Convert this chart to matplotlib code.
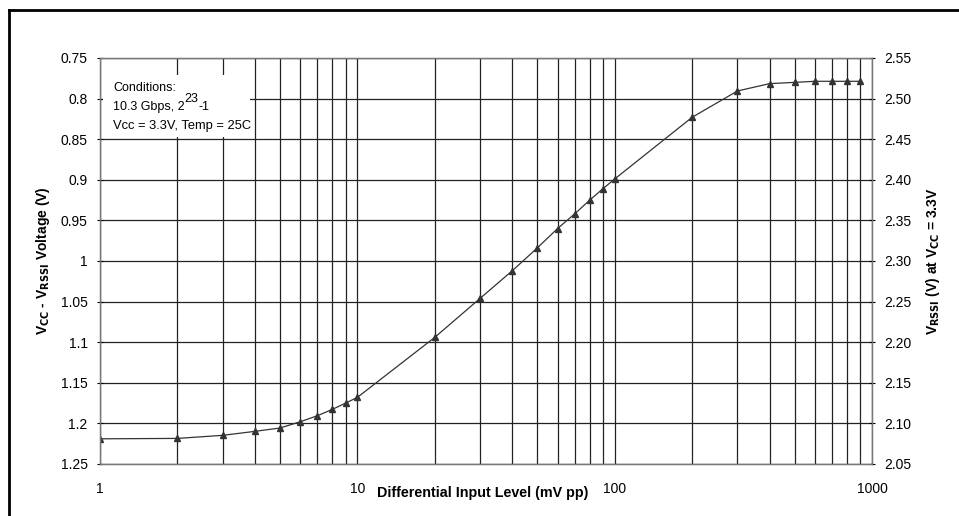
import matplotlib.pyplot as plt
from matplotlib.patches import Rectangle
from matplotlib.ticker import FixedLocator, FuncFormatter, NullFormatter

plt.rcParams['font.family'] = ['Liberation Sans', 'DejaVu Sans']

# Differential input level (mV pp) and VCC - VRSSI (V)
input_mv = [1, 2, 3, 4, 5, 6, 7, 8, 9, 10,
            20, 30, 40, 50, 60, 70, 80, 90, 100,
            200, 300, 400, 500, 600, 700, 800, 900]
vcc_minus_rssi = [1.219, 1.2185, 1.2147, 1.2098, 1.2057, 1.198, 1.1905, 1.1827, 1.175, 1.168,
                  1.094, 1.046, 1.012, 0.984, 0.960, 0.9418, 0.925, 0.911, 0.899,
                  0.823, 0.7906, 0.7816, 0.780, 0.7787, 0.7787, 0.7787, 0.7787]

left_ticks = [0.75, 0.8, 0.85, 0.9, 0.95, 1.0, 1.05, 1.1, 1.15, 1.2, 1.25]
right_ticks = [2.05, 2.10, 2.15, 2.20, 2.25, 2.30, 2.35, 2.40, 2.45, 2.50, 2.55]

fig = plt.figure(figsize=(9.59, 5.16), dpi=100)
ax = fig.add_axes([0.1043, 0.1008, 0.805, 0.7868])

ax.plot(input_mv, vcc_minus_rssi, color='#333333', lw=0.9,
        marker='^', markersize=4.5, markerfacecolor='#333333', markeredgecolor='#333333')

ax.set_xscale('log')
ax.set_xlim(1, 1000)
ax.set_ylim(1.25, 0.75)
ax.set_yticks(left_ticks)
ax.yaxis.set_major_formatter(FuncFormatter(lambda v, p: f"{v:g}"))
ax.xaxis.set_major_locator(FixedLocator([1, 10, 100, 1000]))
ax.xaxis.set_major_formatter(FuncFormatter(lambda v, p: f"{v:g}"))
ax.xaxis.set_minor_formatter(NullFormatter())

# grid: every minor decade line vertically, every 0.05 horizontally
ax.grid(True, which='both', axis='x', color='#222222', lw=0.9)
ax.grid(True, which='major', axis='y', color='#222222', lw=0.9)
ax.tick_params(axis='x', which='both', length=0, labelsize=10, pad=13)
ax.tick_params(axis='y', length=4, width=0.8, labelsize=10, pad=7, direction='inout')
for s in ax.spines.values():
    s.set_color('#777777')
    s.set_linewidth(1)

ax2 = ax.twinx()
ax2.set_ylim(2.05, 2.55)
ax2.set_yticks(right_ticks)
ax2.yaxis.set_major_formatter(FuncFormatter(lambda v, p: f"{v:.2f}"))
ax2.tick_params(axis='y', length=4, width=0.8, labelsize=10, pad=7, direction='inout')
for s in ax2.spines.values():
    s.set_color('#777777')

ax.set_ylabel(r'V$_{\mathbf{CC}}$ - V$_{\mathbf{RSSI}}$ Voltage (V)', fontsize=10, fontweight='bold', labelpad=6)
ax2.set_ylabel(r'V$_{\mathbf{RSSI}}$ (V) at V$_{\mathbf{CC}}$ = 3.3V', fontsize=10, fontweight='bold', labelpad=9)
ax.text(0.496, -0.072, 'Differential Input Level (mV pp)', transform=ax.transAxes,
        ha='center', va='center', fontsize=10.3, fontweight='bold')

# conditions note on a white box
ax.add_patch(Rectangle((0.004, 0.805), 0.19, 0.153, transform=ax.transAxes,
                       facecolor='white', edgecolor='none', zorder=4))
ax.text(0.017, 0.925, 'Conditions:', transform=ax.transAxes, ha='left', va='center',
        fontsize=9, zorder=5)
t2 = ax.text(0.017, 0.872, '10.3 Gbps, 2', transform=ax.transAxes, ha='left', va='baseline',
             fontsize=9, zorder=5)
t3 = ax.annotate('23', xy=(1, 0.7), xycoords=t2, ha='left', va='bottom', fontsize=9, zorder=5)
ax.annotate('-1', xy=(1, 0), xycoords=(t3, t2), ha='left', va='bottom',
            fontsize=9, zorder=5)
ax.text(0.017, 0.833, 'Vcc = 3.3V, Temp = 25C', transform=ax.transAxes, ha='left', va='center',
        fontsize=9.3, zorder=5)

# outer frame (left and top edges)
fig.add_artist(plt.Line2D([0.009, 0.009], [0.0, 0.981], color='black', lw=2))
fig.add_artist(plt.Line2D([0.009, 1.0], [0.981, 0.981], color='black', lw=2))

fig.savefig('out.png', dpi=100)
